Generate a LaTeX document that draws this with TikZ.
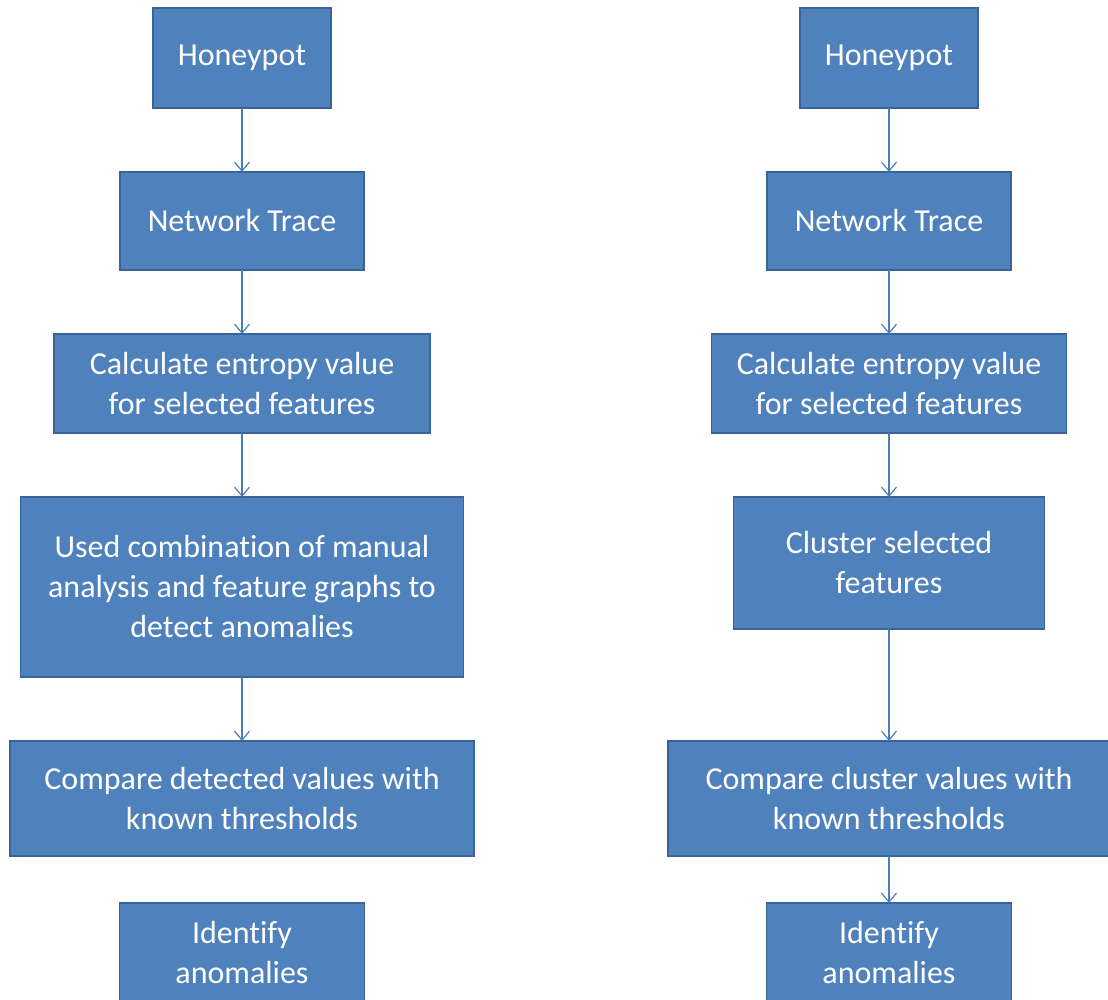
\documentclass[tikz,border=0pt]{standalone}
\usepackage{fontspec}
\setmainfont{Carlito}[Ligatures=NoCommon]
\usetikzlibrary{positioning}
\usetikzlibrary{arrows.meta}
\definecolor{boxfill}{HTML}{4F81BD}
\definecolor{boxline}{HTML}{3A639A}
\definecolor{flow}{HTML}{4A7EBB}

\begin{document}
\begin{tikzpicture}[main/.style = {draw=boxline, fill=boxfill, line width=1.5pt, outer sep=0pt, text=white, align=center, inner sep=0pt, font=\fontsize{32}{40}\selectfont}, flowline/.style = {draw=flow, line width=1.2pt, -{Straight Barb[length=9pt,width=15pt]}}, node distance=64pt]
\useasboundingbox (0,0) rectangle (1108pt,-1000pt);
% left column
\node[main, minimum width=178pt, minimum height=100pt] (1) at (242pt,-58pt) {Honeypot};
\node[main, minimum width=244pt, minimum height=98pt] (2) [below=of 1] {Network Trace};
\node[main, minimum width=376pt, minimum height=99pt] (3) [below=of 2] {Calculate entropy value\\for selected features};
\node[main, minimum width=443pt, minimum height=180pt] (4) [below=of 3] {Used combination of manual\\analysis and feature graphs to\\detect anomalies};
\node[main, minimum width=464pt, minimum height=115pt] (5) [below=of 4] {Compare detected values with\\known thresholds};
\node[main, minimum width=245pt, minimum height=98pt] (6) [below=47pt of 5] {Identify\\anomalies};
% right column
\node[main, minimum width=178pt, minimum height=100pt] (7) [right=469pt of 1] {Honeypot};
\node[main, minimum width=244pt, minimum height=98pt] (8) [below=of 7] {Network Trace};
\node[main, minimum width=355pt, minimum height=99pt] (9) [below=of 8] {Calculate entropy value\\for selected features};
\node[main, minimum width=311pt, minimum height=132pt] (10) [below=of 9] {Cluster selected\\features};
\node[main, minimum width=442pt, minimum height=115pt] (11) [below=112pt of 10] {Compare cluster values with\\known thresholds};
\node[main, minimum width=245pt, minimum height=98pt] (12) [below=47pt of 11] {Identify\\anomalies};
\path (1) edge [flowline] (2);
\path (2) edge [flowline] (3);
\path (3) edge [flowline] (4);
\path (4) edge [flowline] (5);
\path (7) edge [flowline] (8);
\path (8) edge [flowline] (9);
\path (9) edge [flowline] (10);
\path (10) edge [flowline] (11);
\path (11) edge [flowline] (12);
\end{tikzpicture}
\end{document}
